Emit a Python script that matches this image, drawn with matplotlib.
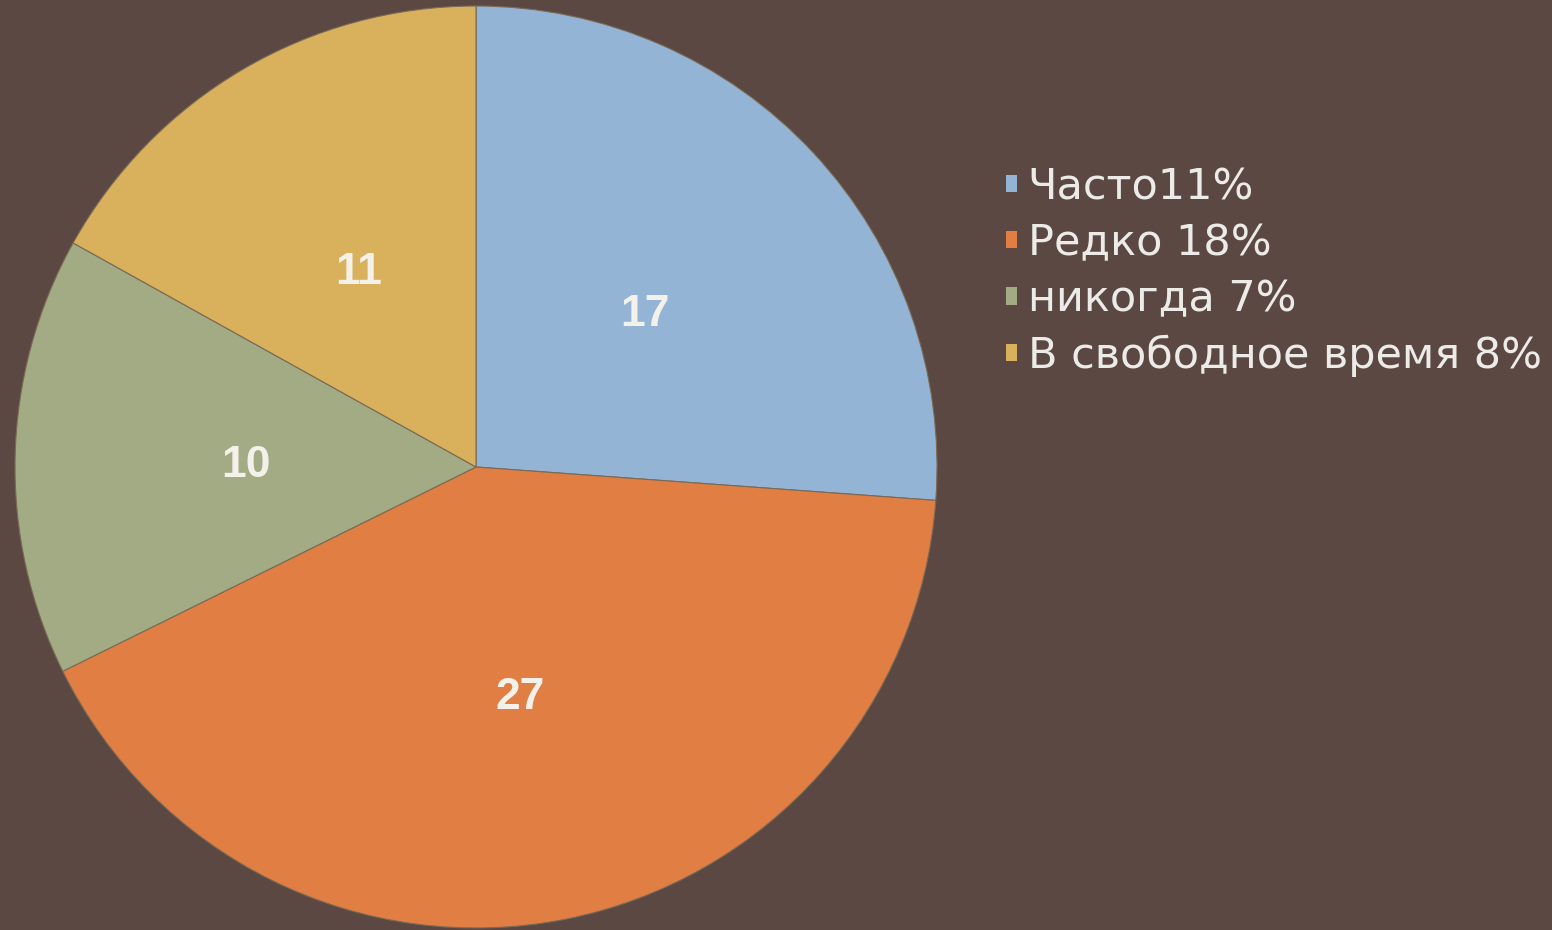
import matplotlib
matplotlib.use("Agg")
import matplotlib.pyplot as plt
import matplotlib.transforms as mtransforms
import numpy as np

categories = ["Часто11%", "Редко 18%", "никогда 7%", "В свободное время 8%"]
values = [17, 27, 10, 11]
colors = ["#93b4d4", "#e07e43", "#a2ab83", "#d9b05b"]
bg = "#5b4843"

plt.rcParams['font.family'] = ['Liberation Sans', 'DejaVu Sans']

fig = plt.figure(figsize=(15.52, 9.3), dpi=100, facecolor=bg)
ax = fig.add_axes([0.00966, 0.00215, 0.5941, 0.9914])
ax.set_facecolor(bg)

wedges, texts = ax.pie(values, colors=colors, startangle=90, counterclock=False,
                       labels=[str(v) for v in values], labeldistance=0.5,
                       wedgeprops=dict(edgecolor="#7a6a55", linewidth=0.8),
                       textprops=dict(color="#f4f1ea", fontsize=32, fontweight="bold",
                                      ha="center", va="center"))
shift = mtransforms.ScaledTranslation(0, -4 / 100, fig.dpi_scale_trans)
for t in texts:
    t.set_horizontalalignment("center")
    t.set_verticalalignment("center")
    t.set_transform(t.get_transform() + shift)
ax.set_aspect("equal")
ax.set_xlim(-1, 1)
ax.set_ylim(-1, 1)
ax.axis("off")

leg = fig.legend(wedges, categories, loc="upper left",
                 bbox_to_anchor=(1006 / 1552, 1 - 166 / 930),
                 frameon=False, prop=dict(family="DejaVu Sans", size=31),
                 labelcolor="#ecebe8",
                 handlelength=0.25, handleheight=0.25, handletextpad=0.25,
                 labelspacing=0.33, borderpad=0, borderaxespad=0)
for h in leg.legend_handles:
    h.set_edgecolor("none")

fig.savefig("out.png", dpi=100, facecolor=bg)
